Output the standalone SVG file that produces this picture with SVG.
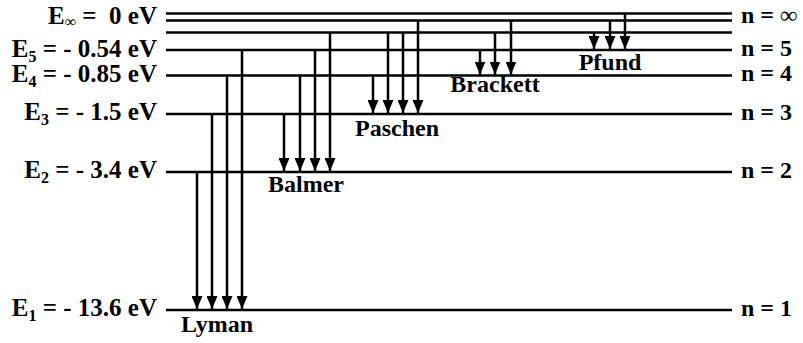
<svg xmlns="http://www.w3.org/2000/svg" width="803" height="343" viewBox="0 0 803 343">
<defs>
<style>
.lvl{stroke:#000;stroke-width:2.5;fill:none}
.con{stroke:#000;stroke-width:2.5;fill:none}
text{font-family:"Liberation Serif","Times New Roman",serif;font-weight:bold;font-size:24px;fill:#000}
.lab{font-size:24px}
.el{font-size:25px}
.r{text-anchor:end}
.m{text-anchor:middle}
.sub{font-size:16px}
</style>
<marker id="arr" markerUnits="userSpaceOnUse" markerWidth="13" markerHeight="11" refX="13" refY="5.5" orient="auto" viewBox="0 0 13 11">
<path d="M0,0 L13,5.5 L0,11 z" fill="#000"/>
</marker>
</defs>
<rect width="803" height="343" fill="#fff"/>
<g id="levels">
<g id="n-inf"><line class="lvl" x1="166" y1="13.5" x2="732" y2="13.5"/><line class="lvl" x1="166" y1="20.5" x2="732" y2="20.5"/><line class="lvl" x1="166" y1="32.5" x2="732" y2="32.5"/>
<text class="el r" x="157" y="24">E<tspan class="sub" dy="3">∞</tspan><tspan dy="-3" xml:space="preserve"> =  0 eV</tspan></text>
<text class="lab" x="741" y="23">n = ∞</text></g>
<g id="n5"><line class="lvl" x1="166" y1="50" x2="732" y2="50"/>
<text class="el r" x="157" y="57">E<tspan class="sub" dy="5">5</tspan><tspan dy="-5"> = - 0.54 eV</tspan></text>
<text class="lab" x="741" y="56">n = 5</text></g>
<g id="n4"><line class="lvl" x1="166" y1="75.5" x2="732" y2="75.5"/>
<text class="el r" x="157" y="82">E<tspan class="sub" dy="5">4</tspan><tspan dy="-5"> = - 0.85 eV</tspan></text>
<text class="lab" x="741" y="81">n = 4</text></g>
<g id="n3"><line class="lvl" x1="166" y1="114" x2="732" y2="114"/>
<text class="el r" x="157" y="120">E<tspan class="sub" dy="5">3</tspan><tspan dy="-5"> = - 1.5 eV</tspan></text>
<text class="lab" x="741" y="120">n = 3</text></g>
<g id="n2"><line class="lvl" x1="166" y1="172" x2="732" y2="172"/>
<text class="el r" x="157" y="178">E<tspan class="sub" dy="5">2</tspan><tspan dy="-5"> = - 3.4 eV</tspan></text>
<text class="lab" x="741" y="178">n = 2</text></g>
<g id="n1"><line class="lvl" x1="166" y1="310" x2="732" y2="310"/>
<text class="el r" x="157" y="316">E<tspan class="sub" dy="5">1</tspan><tspan dy="-5"> = - 13.6 eV</tspan></text>
<text class="lab" x="741" y="316">n = 1</text></g>
</g>
<g id="connectors">
<line class="con" x1="197" y1="172" x2="197" y2="309" marker-end="url(#arr)"/>
<line class="con" x1="212" y1="114" x2="212" y2="309" marker-end="url(#arr)"/>
<line class="con" x1="227" y1="75.5" x2="227" y2="309" marker-end="url(#arr)"/>
<line class="con" x1="242" y1="50" x2="242" y2="309" marker-end="url(#arr)"/>
<line class="con" x1="284" y1="114" x2="284" y2="171" marker-end="url(#arr)"/>
<line class="con" x1="300" y1="75.5" x2="300" y2="171" marker-end="url(#arr)"/>
<line class="con" x1="315" y1="50" x2="315" y2="171" marker-end="url(#arr)"/>
<line class="con" x1="330" y1="32.5" x2="330" y2="171" marker-end="url(#arr)"/>
<line class="con" x1="373" y1="75.5" x2="373" y2="113" marker-end="url(#arr)"/>
<line class="con" x1="388" y1="32.5" x2="388" y2="113" marker-end="url(#arr)"/>
<line class="con" x1="403" y1="32.5" x2="403" y2="113" marker-end="url(#arr)"/>
<line class="con" x1="418" y1="20.5" x2="418" y2="113" marker-end="url(#arr)"/>
<line class="con" x1="480" y1="50" x2="480" y2="74.5" marker-end="url(#arr)"/>
<line class="con" x1="495" y1="32.5" x2="495" y2="74.5" marker-end="url(#arr)"/>
<line class="con" x1="511" y1="20.5" x2="511" y2="74.5" marker-end="url(#arr)"/>
<line class="con" x1="594" y1="32.5" x2="594" y2="49" marker-end="url(#arr)"/>
<line class="con" x1="610" y1="20.5" x2="610" y2="49" marker-end="url(#arr)"/>
<line class="con" x1="625" y1="13.5" x2="625" y2="49" marker-end="url(#arr)"/>
</g>
<g id="series">
<text class="m" x="217" y="332">Lyman</text>
<text class="m" x="306" y="192">Balmer</text>
<text class="m" x="397" y="136">Paschen</text>
<text class="m" x="495" y="92">Brackett</text>
<text class="m" x="610" y="70">Pfund</text>
</g>
</svg>
